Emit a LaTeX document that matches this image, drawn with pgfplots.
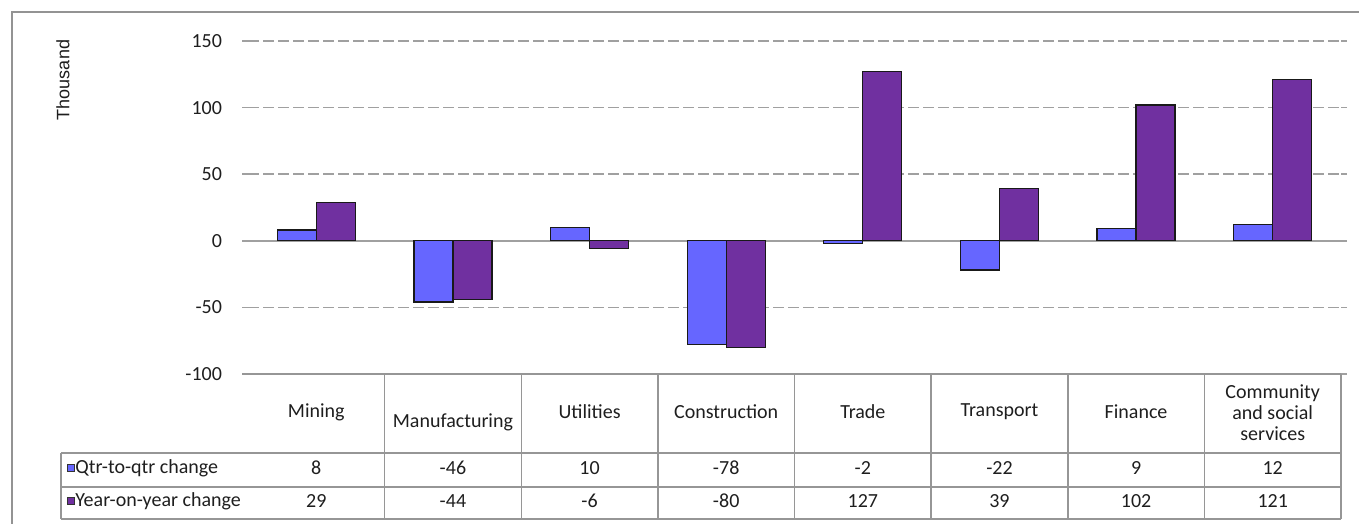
\documentclass[border=0pt]{standalone}
\usepackage{pgfplots}
\pgfplotsset{compat=1.18}
\usepackage{pgfplotstable}
\usepackage{fontspec}
\setmainfont{Carlito}
\newfontfamily\arialfont{Liberation Sans}

\definecolor{qtrblue}{RGB}{102,102,255}
\definecolor{yoypurple}{RGB}{112,48,160}
\definecolor{gridgray}{RGB}{160,160,160}
\definecolor{tblgray}{RGB}{150,150,150}
\definecolor{txt}{RGB}{30,30,30}

% employment change by industry, thousand
\pgfplotstableread{
x qtr yoy
0 8 29
1 -46 -44
2 10 -6
3 -78 -80
4 -2 127
5 -22 39
6 9 102
7 12 121
}\changes

\newcommand\tblfont{\fontsize{10}{10.5}\selectfont\color{txt}}

\begin{document}
\begin{tikzpicture}
\begin{scope}[x=0.5pt,y=0.5pt]
\useasboundingbox (0,0) rectangle (1359,524);
% outer frame (only top and left edges are inside the picture)
\draw[gray!85, line width=1pt] (12,-10) -- (12,512) -- (1370,512);
\node[rotate=90, font=\arialfont\fontsize{9}{11}\selectfont, text=txt] at (63,524-80) {Thousand};
\end{scope}

\begin{axis}[
  at={(124pt,75pt)}, anchor=south west,
  scale only axis,
  width=546.5pt, height=166.5pt,
  xmin=-0.5, xmax=7.5,
  ymin=-100, ymax=150,
  ytick={-100,-50,...,150},
  xtick=\empty,
  axis line style={draw=none},
  ymajorgrids,
  grid style={gridgray, line width=0.75pt, dash pattern=on 5.5pt off 2pt},
  tick align=outside,
  major tick length=3pt,
  ytick style={gridgray, line width=0.75pt},
  yticklabel style={font=\tblfont, xshift=-6.5pt},
  /pgf/number format/assume math mode=true,
  clip=false,
]
\draw[gridgray, line width=0.75pt] ([xshift=-3pt]axis cs:-0.5,0) -- (axis cs:7.5,0);
\addplot[ybar, bar width=0.2855, bar shift=-0.14275, fill=qtrblue, draw=black!90, line width=0.65pt]
  table[x=x, y=qtr] {\changes};
\addplot[ybar, bar width=0.2855, bar shift=0.14275, fill=yoypurple, draw=black!90, line width=0.65pt]
  table[x=x, y=yoy] {\changes};
\end{axis}

\begin{scope}[x=0.5pt,y=0.5pt]
% data table below the plot
\begin{scope}[tblgray, line width=0.75pt]
\draw (242,524-374) -- (1341,524-374);
\foreach \yy in {453,487,519} \draw (61,524-\yy) -- (1341,524-\yy);
\draw (61,524-453) -- (61,524-519);
\foreach \k in {1,...,8} \draw ({248+136.625*\k},524-374) -- ({248+136.625*\k},524-519);
\end{scope}

\foreach[count=\i from 0] \name/\yy in {Mining/412,Manufacturing/422,Utilities/412,Construction/412,Trade/412,Transport/412,Finance/412}
  \node[font=\tblfont] at ({248+136.625*(\i+0.5)},524-\yy) {\name};
\node[font=\tblfont, align=center] at ({248+136.625*7.5},524-413) {Community\\and social\\services};

\foreach \i in {0,...,7} {
  \pgfplotstablegetelem{\i}{qtr}\of\changes
  \node[font=\tblfont] at ({248+136.625*(\i+0.5)},524-468) {\pgfplotsretval};
  \pgfplotstablegetelem{\i}{yoy}\of\changes
  \node[font=\tblfont] at ({248+136.625*(\i+0.5)},524-501) {\pgfplotsretval};
}

\draw[black!80, line width=0.4pt, fill=qtrblue] (67.5,524-464) rectangle (74,524-471);
\draw[black!80, line width=0.4pt, fill=yoypurple] (67.5,524-497) rectangle (74,524-504);
\node[font=\tblfont, anchor=west, inner sep=0pt] at (75,524-468) {Qtr-to-qtr change};
\node[font=\tblfont, anchor=west, inner sep=0pt] at (75,524-501) {Year-on-year change};
\end{scope}
\end{tikzpicture}
\end{document}
